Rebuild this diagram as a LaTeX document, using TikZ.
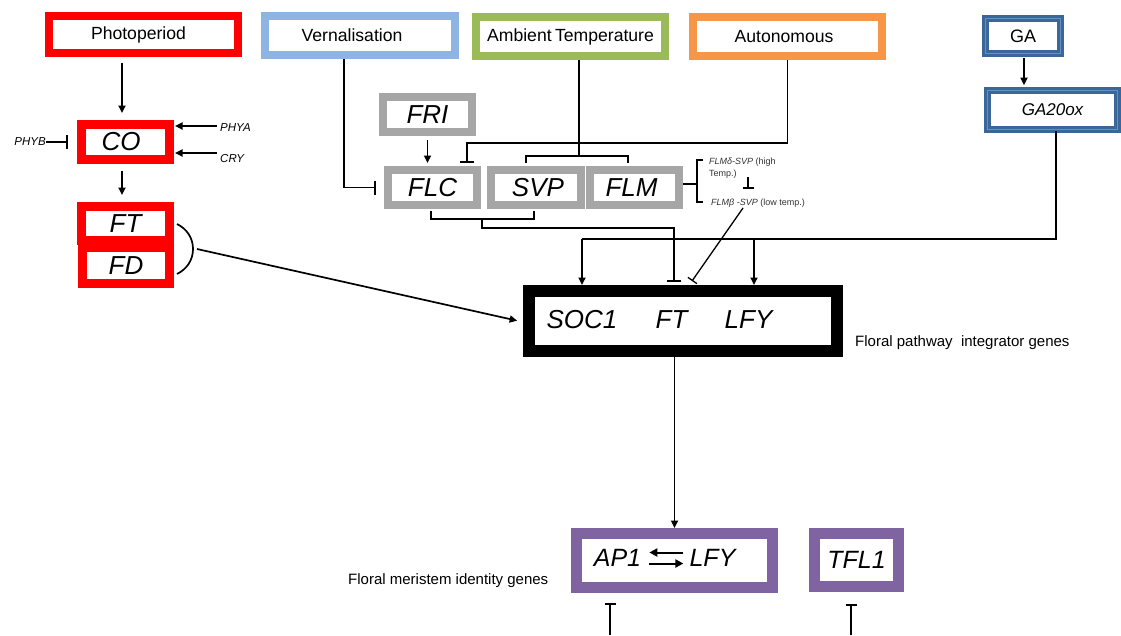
\documentclass[tikz,border=0pt]{standalone}
\usepackage{fontspec}
\setmainfont{Liberation Sans}
\usetikzlibrary{arrows.meta,calc}
\definecolor{cred}{HTML}{FF0000}
\definecolor{cvern}{HTML}{8EB4E3}
\definecolor{camb}{HTML}{9BBB59}
\definecolor{cauto}{HTML}{F79646}
\definecolor{cgad}{HTML}{3A6699}
\definecolor{cgal}{HTML}{6690C4}
\definecolor{cgray}{HTML}{A6A6A6}
\definecolor{cpur}{HTML}{8064A2}
\definecolor{ctxt}{HTML}{333333}
\begin{document}
\begin{tikzpicture}[x=1pt,y=-1pt]
\tikzset{
 bx/.style={inner sep=0pt, fill=white, align=center},
 lab/.style={font=\fontsize{17.6}{20}\selectfont},
 gene/.style={font=\fontsize{26}{30}\selectfont\itshape},
 genes/.style={font=\fontsize{25}{30}\selectfont\itshape},
 small/.style={font=\fontsize{11.5}{13}\selectfont\itshape, inner sep=0pt},
 tiny/.style={font=\fontsize{9}{12.5}\selectfont, text=ctxt, inner sep=0pt},
 note/.style={font=\fontsize{15}{18}\selectfont, inner sep=0pt},
 ln/.style={line width=1.7pt},
 arr/.style={ln, -{Triangle[length=7.5pt,width=7pt]}},
 inh/.style={ln, -{Bar[width=14pt]}},
 inhs/.style={ln, -{Bar[width=11pt]}},
 gabox/.style={bx, draw=cgad, double=cgal, line width=2.6pt, double distance=1.8pt},
}
\useasboundingbox (0,0) rectangle (1121,635);
\fill[white] (0,0) rectangle (1121,635);

% ---- top pathway boxes
\node[bx, lab, draw=cred, line width=8pt, minimum width=189pt, minimum height=37pt] (photo) at (143.5,34.5) {\hspace*{-10pt}Photoperiod};
\node[bx, lab, draw=cvern, line width=8pt, minimum width=190pt, minimum height=39pt] (vern) at (360,35.5) {\hspace*{-16pt}Vernalisation};
\node[bx, lab, draw=camb, line width=8pt, minimum width=189pt, minimum height=39pt] (amb) at (570.5,36.5) {Ambient\hspace{-1.5pt} Temperature};
\node[bx, lab, draw=cauto, line width=8pt, minimum width=189pt, minimum height=39pt] (auto) at (787.5,36.5) {\hspace*{-7pt}Autonomous};
\node[gabox, font=\fontsize{18}{21}\selectfont, minimum width=75pt, minimum height=35pt] (ga) at (1023,36) {GA};
\node[gabox, font=\fontsize{17}{20}\selectfont\itshape, minimum width=130pt, minimum height=39pt] (ga20) at (1052.5,110) {GA20ox};

% ---- photoperiod branch
\node[bx, gene, draw=cred, line width=9pt, minimum width=88pt, minimum height=35pt] (co) at (125.5,142) {\hspace*{-9pt}CO};
\node[bx, gene, draw=cred, line width=9pt, minimum width=87pt, minimum height=36pt] (fd) at (126,265.5) {\raisebox{-2pt}{FD}};
\node[bx, gene, draw=cred, line width=9pt, minimum width=88pt, minimum height=34pt] (ft) at (125.5,223.5) {\raisebox{-1.5pt}{FT}};
\node[small, anchor=west] (phya) at (220,128) {PHYA};
\node[small, anchor=west] (cry) at (220,158.5) {CRY};
\node[small, anchor=east] (phyb) at (46,142) {PHYB};

% ---- gray genes
\node[bx, gene, draw=cgray, line width=8pt, minimum width=89pt, minimum height=35pt] (fri) at (427.5,114.5) {FRI};
\node[bx, gene, draw=cgray, line width=8pt, minimum width=89pt, minimum height=35pt] (flc) at (432.5,187.5) {\raisebox{-1pt}{FLC}};
\node[bx, gene, draw=cgray, line width=8pt, minimum width=90pt, minimum height=35pt] (svp) at (536,187.5) {\hspace*{4pt}\raisebox{-1pt}{SVP}};
\node[bx, gene, draw=cgray, line width=8pt, minimum width=89pt, minimum height=35pt] (flm) at (634.5,187.5) {\hspace*{-6pt}FLM};
\node[tiny, anchor=west, align=left] (fd1) at (709,168) {\textit{FLMδ-SVP} (high\\Temp.)};
\node[tiny, anchor=west] (fd2) at (711,203) {\textit{FLMβ -SVP} (low temp.)};

% ---- integrators
\node[bx, draw=black, line width=12pt, minimum width=308pt, minimum height=60pt] (soc) at (683,321) {};
\node[gene, inner sep=0pt] (s1) at (582,319.5) {SOC1};
\node[gene, inner sep=0pt] (s2) at (671.5,319.5) {FT};
\node[gene, inner sep=0pt] (s3) at (748.5,319.5) {LFY};
\node[note, anchor=west] (fpi) at (855,343) {Floral pathway\ \ integrator genes};

% ---- meristem identity
\node[bx, draw=cpur, line width=11pt, minimum width=196pt, minimum height=54pt] (ap1) at (674.5,560.5) {};
\node[genes, inner sep=0pt] (ap1t) at (617.5,557.5) {AP1};
\node[genes, inner sep=0pt] (lfyt) at (712.5,557.5) {LFY};
\node[bx, genes, draw=cpur, line width=11pt, minimum width=84pt, minimum height=53pt] (tfl) at (856.5,560) {\raisebox{-1pt}{TFL1}};
\node[note, anchor=west] (fmi) at (348,581) {Floral meristem identity genes};

% ---- coordinates
\coordinate (cot) at ([xshift=-3.5pt]co.north);
\coordinate (bt) at (177,224);
\coordinate (bm) at (193,249);
\coordinate (bb) at (177,274);
\coordinate (ac) at (467,143);
\coordinate (ab) at (579,156);
\coordinate (abl) at (526,156);
\coordinate (abr) at (628,156);
\coordinate (fb1) at (431,219);
\coordinate (fb2) at (534,219);
\coordinate (fbm) at (482,219);
\coordinate (fbc) at (674,228);
\coordinate (fk) at (697,184);
\coordinate (fkt) at (703,160);
\coordinate (fkb) at (703,202);
\coordinate (fi1) at (748,177);
\coordinate (fi2) at (748,189);
\coordinate (dg) at (743,208);
\coordinate (dge) at (692,281);
\coordinate (g0) at (1056,239);
\coordinate (g1) at (582,239);
\coordinate (g2) at (754,239);
\coordinate (z1) at (610,635);
\coordinate (z2) at (851,635);

% ---- connectors: photoperiod
\draw[arr, shorten <=6pt, shorten >=7pt] (photo.south -| cot) -- (cot);
\draw[arr, shorten <=3pt, shorten >=1pt] ([yshift=2pt]phya.west) -- ([yshift=2pt]phya.west -| co.east);
\draw[arr, shorten <=3pt, shorten >=1pt] ([yshift=5.5pt]cry.west) -- ([yshift=5.5pt]cry.west -| co.east);
\draw[inh, shorten >=9pt] (phyb.east) -- (phyb.east -| co.west);
\draw[arr, shorten <=7pt, shorten >=7pt] (co.south -| cot) -- (ft.north -| cot);
\draw[ln] (bt) .. controls (187,229) and (193,238) .. (bm) .. controls (193,260) and (187,269) .. (bb);
\draw[arr, shorten >=6pt] ([xshift=4pt]bm) -- ([yshift=-1pt]soc.west);

% ---- vernalisation / ambient / autonomous
\draw[inh, shorten >=8pt] ([xshift=-16pt]vern.south) |- (flc.west);
\draw[inh, shorten >=3pt] (auto.south) |- (ac) -- (ac |- flc.north);
\draw[ln] (amb.south -| ab) -- (ab);
\draw[ln, shorten <=3pt, shorten >=3pt] (abl |- svp.north) -- (abl) -- (abr) -- (abr |- flm.north);
\draw[arr, shorten <=4pt, shorten >=3pt] (fri.south) -- (fri.south |- flc.north);

% ---- FLC/SVP -| SOC1
\draw[ln, shorten <=2pt, shorten >=2pt] (fb1 |- flc.south) -- (fb1) -- (fb2) -- (fb2 |- svp.south);
\draw[inh, shorten >=3pt] (fbm) |- (fbc) -- (fbc |- soc.north);

% ---- FLM isoforms
\draw[ln] (fk -| flm.east) -- (fk);
\draw[ln] (fkt) -- (fkt -| fk) -- (fkb -| fk) -- (fkb);
\draw[inhs] (fi1) -- (fi2);
\draw[inhs, line width=1.3pt] (dg) -- (dge);

% ---- GA
\draw[arr, shorten <=3pt, shorten >=4pt] ([xshift=1pt]ga.south) -- ([xshift=1pt]ga.south |- ga20.north);
\draw[ln] (g0 |- ga20.south) -- (g0) -- (g1);
\draw[arr] (g1) -- (g1 |- soc.north);
\draw[arr] (g2) -- (g2 |- soc.north);

% ---- SOC1 -> AP1, meristem
\draw[arr] (soc.south -| ap1.north) -- (ap1.north);
\draw[ln, line width=2pt, -{Triangle[length=8pt,width=8pt]}, shorten <=6pt, shorten >=8pt] ([yshift=5pt]lfyt.west) -- ([yshift=5pt]ap1t.east);
\draw[ln, line width=2pt, -{Triangle[length=8pt,width=8pt]}, shorten <=8pt, shorten >=6pt] ([yshift=-6pt]ap1t.east) -- ([yshift=-6pt]lfyt.west);
\draw[inhs, shorten >=10pt] (z1) -- (z1 |- ap1.south);
\draw[inhs, shorten >=12pt] (z2) -- (z2 |- tfl.south);
\end{tikzpicture}
\end{document}
